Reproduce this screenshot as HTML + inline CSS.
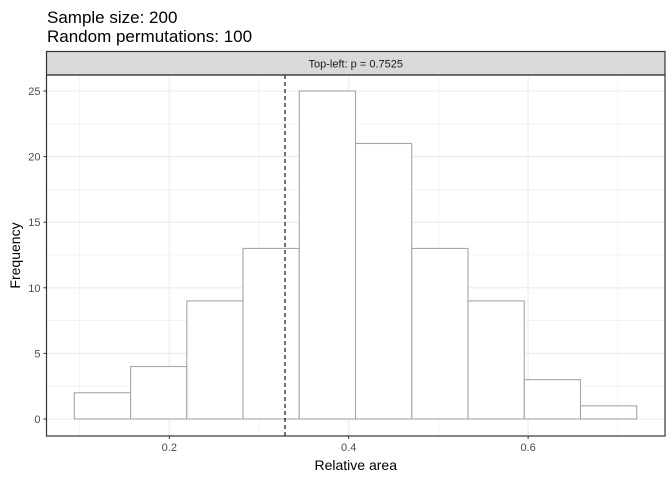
<!DOCTYPE html>
<html><head><meta charset="utf-8"><style>
body{margin:0;background:#fff;}
svg{display:block;font-family:"Liberation Sans",Arial,sans-serif;}
</style></head><body>
<svg width="672" height="480" viewBox="0 0 672 480">
<g id="root"></g>
</svg>
<script>
const counts=[2,4,9,13,25,21,13,9,3,1];
const binStart=0.0941;
const binWidth=0.0627;
const xTicks=[0.2,0.4,0.6];
const xMinor=[0.1,0.3,0.5,0.7];
const yTicks=[0,5,10,15,20,25];
const yMinor=[2.5,7.5,12.5,17.5,22.5];
const refLine=0.329;
const ns="http://www.w3.org/2000/svg";
const L=46.5,R=665,T=75,B=436;
const X=v=>169.3+(v-0.2)*897;
const Y=v=>419-v*13.12;
const root=document.getElementById('root');
function mk(tag,attrs,parent){const e=document.createElementNS(ns,tag);for(const k in attrs)e.setAttribute(k,attrs[k]);(parent||root).appendChild(e);return e;}
// title
let t=mk('text',{x:47,y:23,'font-size':17,fill:'#000'});t.textContent='Sample size: 200';


t=mk('text',{x:47,y:42,'font-size':17,fill:'#000'});t.textContent='Random permutations: 100';


// strip
let s=mk('rect',{x:L,y:51.5,width:R-L,height:T-51.5,fill:'#d9d9d9',stroke:'#333','stroke-width':1.2});


t=mk('text',{x:(L+R)/2,y:67.5,'font-size':11,'text-anchor':'middle',fill:'#1a1a1a'});t.textContent='Top-left: p = 0.7525';


// grid
yMinor.forEach(v=>{const g=mk('line',{x1:L,x2:R,y1:Y(v),y2:Y(v),stroke:'#ebebeb','stroke-width':0.6});});
xMinor.forEach(v=>{const g=mk('line',{x1:X(v),x2:X(v),y1:T,y2:B,stroke:'#ebebeb','stroke-width':0.6});});
yTicks.forEach(v=>{const g=mk('line',{x1:L,x2:R,y1:Y(v),y2:Y(v),stroke:'#ebebeb','stroke-width':1.1});
 const k=mk('line',{x1:L-3,x2:L,y1:Y(v),y2:Y(v),stroke:'#333','stroke-width':1});
 const l=mk('text',{x:L-6,y:Y(v)+4,'font-size':11,'text-anchor':'end',fill:'#4d4d4d'});l.textContent=v;});
xTicks.forEach(v=>{const g=mk('line',{x1:X(v),x2:X(v),y1:T,y2:B,stroke:'#ebebeb','stroke-width':1.1});
 const k=mk('line',{x1:X(v),x2:X(v),y1:B,y2:B+3,stroke:'#333','stroke-width':1});
 const l=mk('text',{x:X(v),y:B+15,'font-size':11,'text-anchor':'middle',fill:'#4d4d4d'});l.textContent=v;});
// bars
counts.forEach((c,i)=>{const x0=X(binStart+i*binWidth),x1=X(binStart+(i+1)*binWidth);
 const r=mk('rect',{x:x0,y:Y(c),width:x1-x0,height:Y(0)-Y(c),fill:'#fff',stroke:'#a6a6a6','stroke-width':1.1});
 
 });
// ref line
const d=mk('line',{x1:X(refLine),x2:X(refLine),y1:T,y2:B,stroke:'#000','stroke-width':1.1,'stroke-dasharray':'4,3'});


// panel border
const p=mk('rect',{x:L,y:T,width:R-L,height:B-T,fill:'none',stroke:'#333','stroke-width':1.2});


t=mk('text',{x:(L+R)/2,y:470,'font-size':14,'text-anchor':'middle',fill:'#000'});t.textContent='Relative area';


t=mk('text',{x:20,y:(T+B)/2,'font-size':14,'text-anchor':'middle',fill:'#000',transform:`rotate(-90 20 ${(T+B)/2})`});t.textContent='Frequency';


</script>
</body></html>
